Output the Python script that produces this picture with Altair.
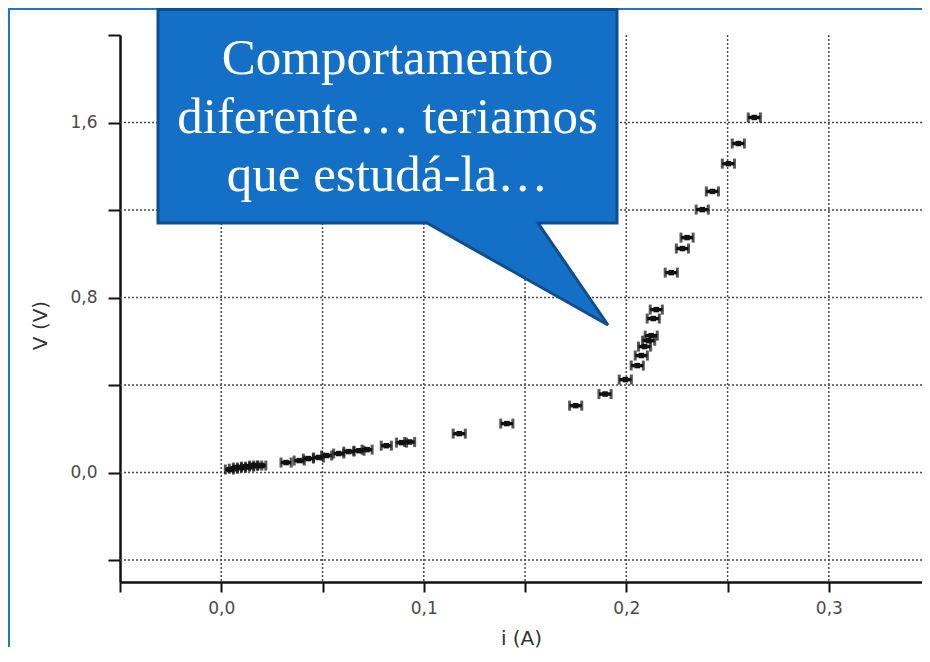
import altair as alt
import pandas as pd

# ---- data ----
i_vals = [0.004, 0.006, 0.008, 0.010, 0.012, 0.014, 0.016, 0.018, 0.020,
          0.032, 0.0385, 0.043, 0.048, 0.052, 0.058, 0.063, 0.068, 0.072,
          0.0815, 0.089, 0.093, 0.1175, 0.141, 0.175, 0.1895, 0.1995,
          0.2054, 0.2074, 0.209, 0.211, 0.2123, 0.2133, 0.2148, 0.2222,
          0.2277, 0.230, 0.2375, 0.2425, 0.2504, 0.2553, 0.2632]
v_vals = [0.014, 0.018, 0.023, 0.023, 0.027, 0.027, 0.032, 0.032, 0.032,
          0.046, 0.055, 0.064, 0.069, 0.078, 0.087, 0.096, 0.100, 0.105,
          0.123, 0.137, 0.140, 0.178, 0.224, 0.306, 0.359, 0.425,
          0.489, 0.535, 0.576, 0.603, 0.626, 0.704, 0.745, 0.914,
          1.024, 1.074, 1.202, 1.285, 1.412, 1.504, 1.623]
i_err = [0.002, 0.002, 0.002, 0.002, 0.002, 0.002, 0.002, 0.002, 0.002,
         0.0025, 0.0025, 0.0025, 0.0025, 0.0025, 0.0025, 0.0025, 0.0025, 0.0025,
         0.0025, 0.0025, 0.0025, 0.003, 0.003, 0.003, 0.003, 0.003,
         0.003, 0.003, 0.003, 0.003, 0.003, 0.003, 0.003, 0.003,
         0.003, 0.003, 0.003, 0.003, 0.003, 0.003, 0.003]

x_ticks = [-0.05, 0.0, 0.05, 0.1, 0.15, 0.2, 0.25, 0.3]
y_ticks = [-0.4, 0.0, 0.4, 0.8, 1.2, 1.6, 2.0]
x_grid = [0.0, 0.05, 0.1, 0.15, 0.2, 0.25, 0.3]
y_grid = [-0.4, 0.0, 0.4, 0.8, 1.2, 1.6]

callout_lines = ["Comportamento", "diferente\u2026 teriamos", "que estud\u00e1-la\u2026"]

x_title = "i (A)"
y_title = "V (V)"

df = pd.DataFrame({"i": i_vals, "v": v_vals, "err": i_err})
xg = pd.DataFrame({"g": x_grid})
yg = pd.DataFrame({"g": y_grid})
one = pd.DataFrame({"k": [0]})

W, H = 802, 547
xscale = alt.Scale(domain=[-0.05, 0.346], nice=False, zero=False)
yscale = alt.Scale(domain=[-0.5, 2.0], nice=False, zero=False)

LABEL_FONT = "DejaVu Sans"

xaxis = alt.Axis(
    values=x_ticks, grid=False,
    labelExpr="abs(datum.value*10 - round(datum.value*10)) < 0.001 && datum.value > -0.01 ? replace(format(datum.value, '.1f'), '.', ',') : ''",
    tickSize=10, tickWidth=2, tickColor="#111",
    domainColor="#111", domainWidth=2.5,
    labelFont=LABEL_FONT, labelFontSize=17, labelColor="#4a4a4a", labelPadding=8,
    labelOverlap=False, labelFlush=False,
    title=x_title, titleFont=LABEL_FONT, titleFontSize=20, titleFontWeight="normal",
    titleColor="#333", titleY=56, titleBaseline="middle",
)
yaxis = alt.Axis(
    values=y_ticks, grid=False,
    labelExpr="abs(datum.value/0.8 - round(datum.value/0.8)) < 0.001 ? replace(format(datum.value, '.1f'), '.', ',') : ''",
    tickSize=12, tickWidth=2, tickColor="#111",
    domainColor="#111", domainWidth=2.5,
    labelFont=LABEL_FONT, labelFontSize=17, labelColor="#4a4a4a", labelPadding=11,
    labelOverlap=False, labelFlush=False,
    title=y_title, titleFont=LABEL_FONT, titleFontSize=20, titleFontWeight="normal",
    titleColor="#333", titleX=-80, titleY=290, titleAngle=270,
    titleAlign="center", titleBaseline="middle",
)

grid_style = dict(color="#4a4a4a", strokeWidth=1.5, strokeDash=[2, 2])

vgrid = alt.Chart(xg).mark_rule(**grid_style).encode(
    x=alt.X("g:Q", scale=xscale, axis=xaxis)
)
hgrid = alt.Chart(yg).mark_rule(**grid_style).encode(
    y=alt.Y("g:Q", scale=yscale, axis=yaxis)
)

base = alt.Chart(df).transform_calculate(
    lo="datum.i - datum.err", hi="datum.i + datum.err"
)
bars = base.mark_rule(color="#111", strokeWidth=3.5).encode(
    x=alt.X("lo:Q", scale=xscale), x2="hi:Q", y=alt.Y("v:Q", scale=yscale)
)
cap_lo = base.mark_tick(orient="vertical", color="#111", size=10, thickness=3).encode(
    x=alt.X("lo:Q", scale=xscale), y=alt.Y("v:Q", scale=yscale)
)
cap_hi = base.mark_tick(orient="vertical", color="#111", size=10, thickness=3).encode(
    x=alt.X("hi:Q", scale=xscale), y=alt.Y("v:Q", scale=yscale)
)
pts = base.mark_square(color="#111", size=30, opacity=1).encode(
    x=alt.X("i:Q", scale=xscale), y=alt.Y("v:Q", scale=yscale)
)

# decorative slide frame (left and top edges), kept inside the canvas
frame_v = alt.Chart(one).mark_rule(color="#2374CC", strokeWidth=2).encode(
    x=alt.value(-111), y=alt.value(-27), y2=alt.value(612)
)
frame_h = alt.Chart(one).mark_rule(color="#2374CC", strokeWidth=2).encode(
    x=alt.value(-112), x2=alt.value(802), y=alt.value(-26)
)

# speech-bubble callout (custom symbol path, unit = 300px, centred at 218,132)
bubble_path = ("M -0.6 -0.525 L 0.93 -0.525 L 0.93 0.186667 L 0.666667 0.186667 "
               "L 0.9 0.526667 L 0.296667 0.186667 L -0.6 0.186667 Z")
bubble = alt.Chart(one).mark_point(
    shape=bubble_path, filled=True, fill="#1470C6", stroke="#0F4E8E",
    strokeWidth=3, strokeJoin="miter", opacity=1, fillOpacity=1, strokeOpacity=1
).encode(x=alt.value(218), y=alt.value(132), size=alt.value(360000))

bubble_text = alt.Chart(one).mark_text(
    font="Liberation Serif", fontSize=51, color="white", align="center",
    baseline="alphabetic", lineHeight=58.5
).encode(x=alt.value(267.5), y=alt.value(39), text=alt.value(callout_lines))

chart = alt.layer(
    vgrid, hgrid, bars, cap_lo, cap_hi, pts,
    frame_v, frame_h, bubble, bubble_text
).properties(
    width=W, height=H,
    background="white",
    autosize=alt.AutoSizeParams(type="none"),
    padding={"left": 112, "top": 27, "right": 0, "bottom": 66},
).configure_view(stroke="transparent", strokeWidth=0).configure_axis(grid=False)

chart.save("out.html", embed_options={"renderer": "svg", "actions": False})
